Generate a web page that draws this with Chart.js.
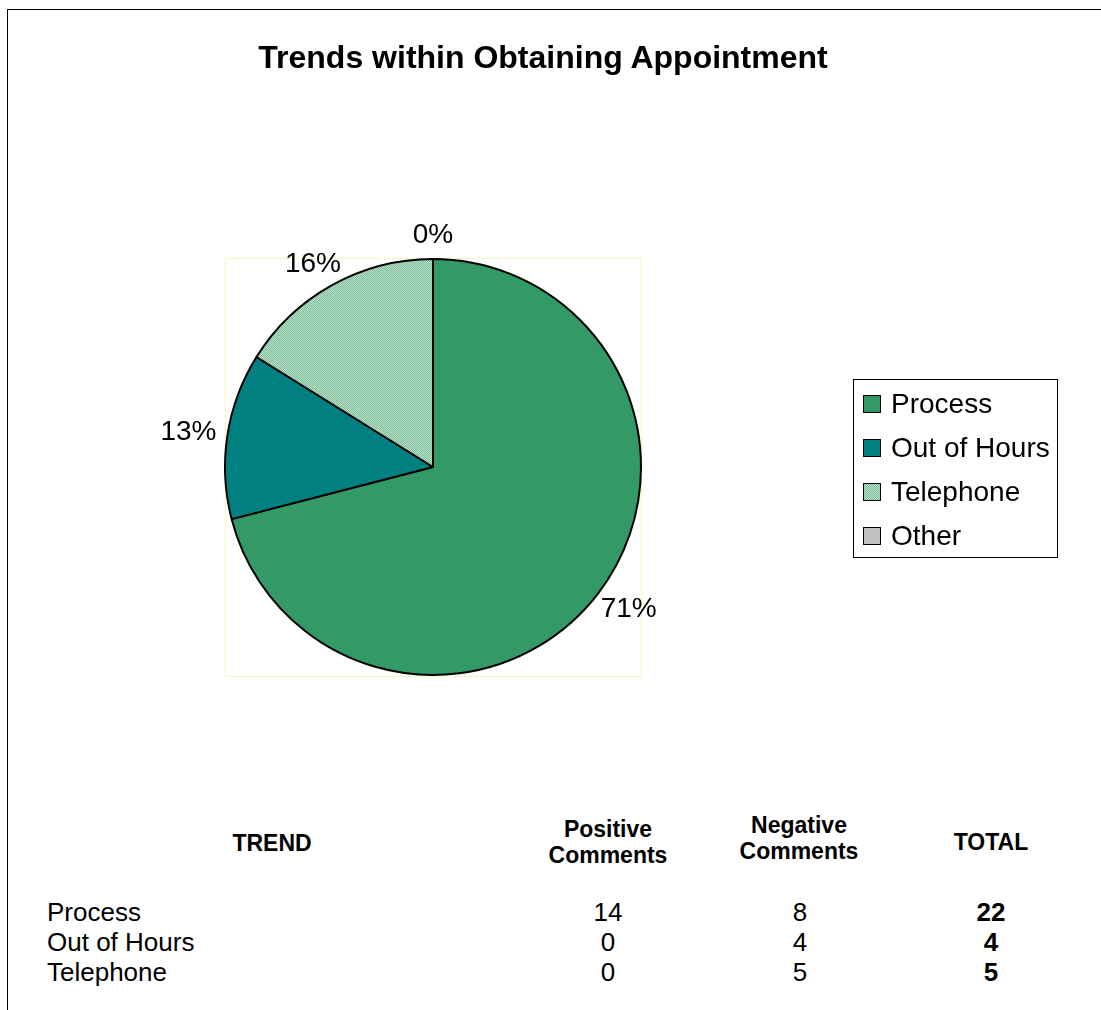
<!DOCTYPE html>
<html>
<head>
<meta charset="utf-8">
<script src="https://cdn.jsdelivr.net/npm/chart.js@4.4.1/dist/chart.umd.min.js"></script>
<style>
html, body { margin: 0; padding: 0; background: #fff; overflow: hidden; }
body { width: 1101px; height: 1010px; position: relative; font-family: "Liberation Sans", Arial, sans-serif; color: #000; }
.frame { position: absolute; left: 7px; top: 9px; width: 1200px; height: 1100px; border: 1px solid #000; }
#pie { position: absolute; left: 0; top: 0; }
.t { position: absolute; white-space: nowrap; text-align: center; }
</style>
</head>
<body>
<div class="frame"></div>
<canvas id="pie" width="1101" height="800"></canvas>
<div id="texts"></div>
<script>
// chart data
const categories = ['Process', 'Out of Hours', 'Telephone', 'Other'];
const totals = [22, 4, 5, 0];

// table under the chart
const trendRows = ['Process', 'Out of Hours', 'Telephone'];
const positiveComments = [14, 0, 0];
const negativeComments = [8, 4, 5];
const rowTotals = [22, 4, 5];

const FONT = '"Liberation Sans", Arial, sans-serif';
const texts = document.getElementById('texts');

// put a piece of text with its middle at (cx, cy)
function place(text, cx, cy, size, bold, w){
  const d = document.createElement('div');
  d.className = 't';
  d.textContent = text;
  const lh = Math.round(size * 1.2);
  w = w || 400;
  d.style.cssText = `left:${cx - w/2}px;top:${cy - lh/2}px;width:${w}px;font-size:${size}px;line-height:${lh}px;font-weight:${bold ? 'bold' : 'normal'}`;
  texts.appendChild(d);
  return d;
}
function placeLeft(text, x, cy, size){
  const d = place(text, x, cy, size, false, 300);
  d.style.left = x + 'px';
  d.style.textAlign = 'left';
}

place('Trends within Obtaining Appointment', 543, 57, 32, true, 800);

// table
place('TREND', 272, 843, 23, true);
place('Positive', 608, 829, 23, true);
place('Comments', 608, 855, 23, true);
place('Negative', 799, 825, 23, true);
place('Comments', 799, 851, 23, true);
place('TOTAL', 991, 842, 23, true);
trendRows.forEach((name, i) => {
  const y = 912 + i * 30;
  placeLeft(name, 47, y, 26);
  place(String(positiveComments[i]), 608, y, 26, false, 100);
  place(String(negativeComments[i]), 800, y, 26, false, 100);
  place(String(rowTotals[i]), 991, y, 26, true, 100);
});

const canvas = document.getElementById('pie');
const ctx = canvas.getContext('2d');

// dotted light green fill used by Excel for "Telephone"
function dotPattern(){
  const c = document.createElement('canvas');
  c.width = 4; c.height = 4;
  const g = c.getContext('2d');
  g.fillStyle = '#bde0cb';
  g.fillRect(0, 0, 4, 4);
  g.fillStyle = '#7cbd99';
  [[0,0],[2,0],[1,1],[3,1],[0,2],[2,2],[1,3],[3,3]].forEach(p => g.fillRect(p[0], p[1], 1, 1));
  return ctx.createPattern(c, 'repeat');
}

const colors = ['#339966', '#008080', dotPattern(), '#c0c0c0'];

// pale yellow plot area box
const plotBox = {
  id: 'plotBox',
  beforeDatasetsDraw(chart){
    const a = chart.chartArea, c = chart.ctx;
    c.save();
    c.strokeStyle = '#f7f7c4';
    c.lineWidth = 1;
    c.strokeRect(Math.round(a.left) + 1.5, Math.round(a.top) + 0.5, a.right - a.left - 2, a.bottom - a.top);
    c.restore();
  }
};

// percentage labels outside the slices
const pctLabels = {
  id: 'pctLabels',
  afterDatasetsDraw(chart){
    const c = chart.ctx;
    const data = chart.data.datasets[0].data;
    const sum = data.reduce((s, v) => s + v, 0);
    c.save();
    c.font = '28px ' + FONT;
    c.fillStyle = '#000';
    c.textAlign = 'center';
    c.textBaseline = 'middle';
    chart.getDatasetMeta(0).data.forEach((arc, i) => {
      const p = arc.getProps(['x', 'y', 'startAngle', 'endAngle', 'outerRadius']);
      const mid = (p.startAngle + p.endAngle) / 2;
      const dx = Math.cos(mid), dy = Math.sin(mid);
      const txt = Math.round(data[i] / sum * 100) + '%';
      const hw = c.measureText(txt).width / 2, hh = 14;
      const r = p.outerRadius + 10;
      c.fillText(txt, p.x + dx * r + dx * hw * 1.05, p.y + dy * r + dy * hh);
    });
    c.restore();
  }
};

// boxed legend on the right
const boxLegend = {
  id: 'boxLegend',
  afterDraw(chart){
    const c = chart.ctx;
    const labels = chart.data.labels;
    const bg = chart.data.datasets[0].backgroundColor;
    c.save();
    c.strokeStyle = '#000';
    c.lineWidth = 1;
    c.strokeRect(853.5, 379.5, 204, 178);
    c.font = '28px ' + FONT;
    c.textBaseline = 'middle';
    labels.forEach((lab, i) => {
      const cy = 404 + i * 44;
      c.fillStyle = bg[i];
      c.fillRect(863, cy - 9, 18, 18);
      c.strokeRect(863.5, cy - 8.5, 17, 17);
      c.fillStyle = '#000';
      c.fillText(lab, 891, cy + 1);
    });
    c.restore();
  }
};

new Chart(ctx, {
  type: 'pie',
  data: {
    labels: categories,
    datasets: [{
      data: totals,
      backgroundColor: colors,
      borderColor: '#000',
      borderWidth: 2
    }]
  },
  options: {
    responsive: false,
    animation: false,
    layout: { padding: { left: 224, right: 1101 - 642, top: 258, bottom: 800 - 676 } },
    plugins: {
      legend: { display: false },
      tooltip: { enabled: false },
      title: { display: false }
    }
  },
  plugins: [plotBox, pctLabels, boxLegend]
});
</script>
</body>
</html>
